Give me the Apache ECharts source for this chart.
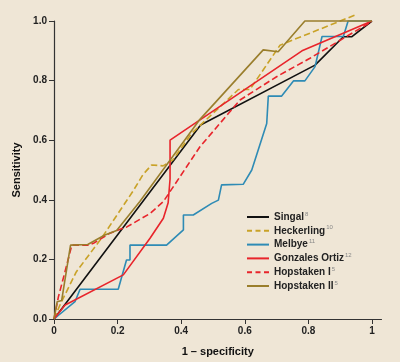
<!DOCTYPE html>
<html><head><meta charset="utf-8">
<script src="https://cdn.jsdelivr.net/npm/echarts@6/dist/echarts.min.js"></script>
<style>html,body{margin:0;padding:0;background:#EFE6D6;}#c{width:400px;height:362px;}</style>
</head><body><div id="c"></div>
<script>
var xTicks = [0, 0.2, 0.4, 0.6, 0.8, 1];
var xTickLabels = ['0', '0.2', '0.4', '0.6', '0.8', '1'];
var yTickLabels = ['0.0', '0.2', '0.4', '0.6', '0.8', '1.0'];
var seriesNames = ['Singal', 'Heckerling', 'Melbye', 'Gonzales Ortiz', 'Hopstaken I', 'Hopstaken II'];
var refs = ['8', '10', '11', '12', '5', '5'];

var singal = [[0,0],[0.461,0.651],[0.821,0.852],[0.91,0.947],[0.936,0.947],[1,1]];
var heckerling = [[0,0],[0.02,0.05],[0.07,0.158],[0.15,0.272],[0.249,0.43],[0.28,0.485],[0.307,0.517],[0.343,0.514],[0.374,0.534],[0.433,0.623],[0.58,0.77],[0.616,0.77],[0.711,0.919],[0.947,1.02]];
var melbye = [[0,0],[0.066,0.058],[0.082,0.1],[0.202,0.1],[0.228,0.198],[0.239,0.198],[0.239,0.248],[0.354,0.248],[0.407,0.299],[0.407,0.349],[0.438,0.349],[0.496,0.388],[0.517,0.399],[0.527,0.45],[0.595,0.452],[0.622,0.5],[0.669,0.656],[0.674,0.748],[0.716,0.748],[0.753,0.799],[0.789,0.799],[0.821,0.847],[0.843,0.948],[0.91,0.948],[0.925,1.0],[1,1]];
var gonzales = [[0,0],[0.035,0.047],[0.218,0.148],[0.302,0.271],[0.344,0.338],[0.359,0.39],[0.365,0.47],[0.365,0.6],[0.78,0.9],[1,1]];
var hopstaken1 = [[0,0],[0.014,0.075],[0.035,0.16],[0.056,0.248],[0.11,0.248],[0.124,0.254],[0.176,0.288],[0.229,0.309],[0.302,0.354],[0.344,0.394],[0.459,0.578],[0.585,0.735],[0.7,0.813],[0.805,0.875],[0.994,0.995]];
var hopstaken2 = [[0,0],[0.01,0.058],[0.024,0.062],[0.052,0.248],[0.106,0.25],[0.16,0.282],[0.197,0.297],[0.27,0.394],[0.459,0.67],[0.658,0.903],[0.705,0.897],[0.789,1.0],[1,1]];

var datasets = [singal, heckerling, melbye, gonzales, hopstaken1, hopstaken2];
var colors = ['#111111', '#C9A227', '#2E8BB5', '#E8242B', '#E8242B', '#9A7E2C'];
var dashes = ['solid', 'dashed', 'solid', 'solid', 'dashed', 'solid'];
var solidIcon = 'path://M0,0H22V2H0Z';
var dashIcon = 'path://M0,0H5V2H0Z M8.5,0H13.5V2H8.5Z M17,0H22V2H17Z';

var chart = echarts.init(document.getElementById('c'));
var series = datasets.map(function (d, i) {
  return {
    name: seriesNames[i], type: 'line', data: d, symbol: 'none', clip: false,
    lineStyle: { color: colors[i], width: 1.6, type: dashes[i] },
    itemStyle: { color: colors[i] }
  };
});
var font = 'Liberation Sans, Arial, sans-serif';
var labelFont = { fontFamily: font, fontWeight: 'bold', fontSize: 10, color: '#222' };
chart.setOption({
  backgroundColor: '#EFE6D6',
  animation: false,
  grid: { left: 54, right: 18.5, top: 21, bottom: 43, containLabel: false },
  xAxis: {
    type: 'value', min: 0, max: 1.03, interval: 0.2,
    name: '1 \u2013 specificity', nameLocation: 'middle', nameGap: 27,
    nameTextStyle: { fontFamily: font, fontWeight: 'bold', fontSize: 11, color: '#111' },
    axisLine: { show: true, lineStyle: { color: '#333', width: 1.2 } },
    axisTick: { show: true, length: 5, lineStyle: { color: '#333' }, customValues: xTicks },
    axisLabel: Object.assign({ margin: 7, customValues: xTicks, formatter: function (v) { return xTickLabels[Math.round(v / 0.2)]; } }, labelFont),
    splitLine: { show: false }
  },
  yAxis: {
    type: 'value', min: 0, max: 1, interval: 0.2,
    name: 'Sensitivity', nameLocation: 'middle', nameGap: 30, nameRotate: 90,
    nameTextStyle: { fontFamily: font, fontWeight: 'bold', fontSize: 11, color: '#111' },
    axisLine: { show: true, lineStyle: { color: '#333', width: 1.2 } },
    axisTick: { show: true, length: 5, lineStyle: { color: '#333' } },
    axisLabel: Object.assign({ margin: 7, formatter: function (v) { return yTickLabels[Math.round(v / 0.2)]; } }, labelFont),
    splitLine: { show: false }
  },
  legend: {
    orient: 'vertical', left: 247, top: 211, padding: 0, itemWidth: 22, itemHeight: 2, itemGap: 2.8,
    data: seriesNames.map(function (n, i) {
      return { name: n, icon: dashes[i] === 'dashed' ? dashIcon : solidIcon,
        itemStyle: { color: colors[i], borderWidth: 0 }, lineStyle: { width: 0 } };
    }),
    formatter: function (name) { return '{n|' + name + '}{s|' + refs[seriesNames.indexOf(name)] + '}'; },
    textStyle: {
      rich: {
        n: { fontFamily: font, fontWeight: 'bold', fontSize: 10, color: '#222', lineHeight: 12 },
        s: { fontFamily: font, fontSize: 6, color: '#888', verticalAlign: 'top', lineHeight: 12, padding: [0, 0, 3, 1] }
      }
    }
  },
  series: series
});
</script></body></html>
